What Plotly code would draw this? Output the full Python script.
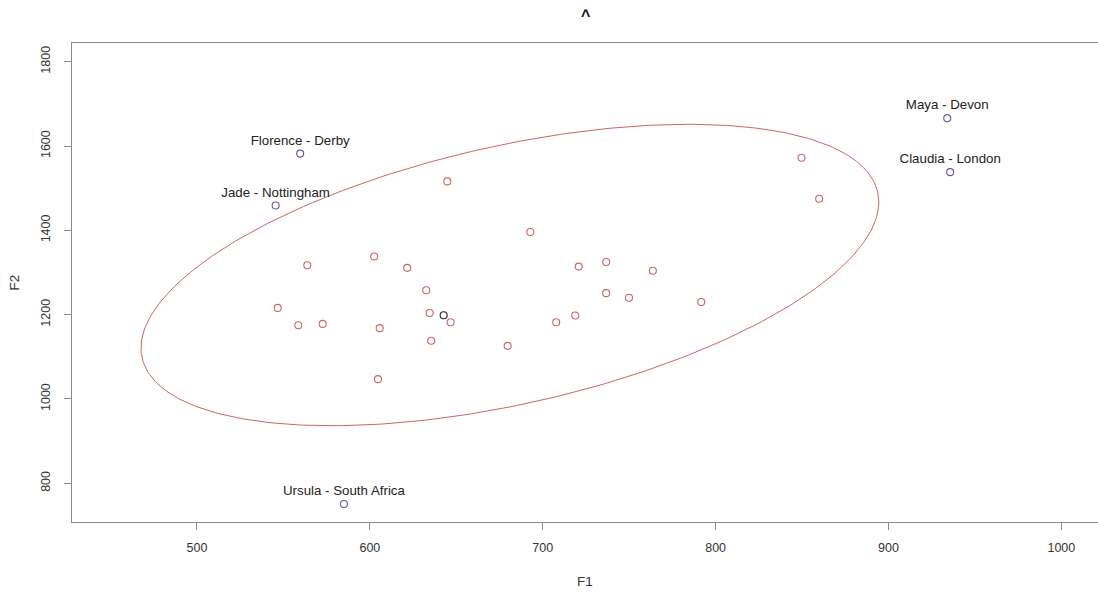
import numpy as np
import plotly.graph_objects as go

# Data
main_f1 = [644.8, 563.8, 602.5, 621.6, 632.6, 546.7, 558.6, 572.7, 605.7, 634.6,
           646.7, 635.5, 604.7, 692.8, 720.8, 736.7, 763.7, 736.7, 749.9, 791.7,
           718.8, 707.8, 679.7, 849.7, 859.9]
main_f2 = [1516, 1317, 1338, 1311, 1258, 1216, 1175, 1178, 1168, 1204,
           1182, 1138, 1047, 1396, 1314, 1325, 1304, 1251, 1240, 1230,
           1198, 1182, 1126, 1572, 1475]

mean_f1 = [642.7]
mean_f2 = [1198.5]

outlier_names = ["Florence - Derby", "Jade - Nottingham", "Maya - Devon",
                 "Claudia - London", "Ursula - South Africa"]
outlier_f1 = [559.7, 545.5, 934.0, 935.7, 585.0]
outlier_f2 = [1582, 1459, 1666, 1538, 751]

# Ellipse parameters (centre, half extents, correlation)
ell_center = (681.0, 1294.0)
ell_half_width = 213.4
ell_half_height = 357.5
ell_corr = 0.484

x_ticks = [500, 600, 700, 800, 900, 1000]
y_ticks = [800, 1000, 1200, 1400, 1600, 1800]

red = "#cc6664"
purple = "#6a52a8"

theta = np.linspace(0, 2 * np.pi, 361)
d = np.arccos(ell_corr)
ell_x = ell_center[0] + ell_half_width * np.cos(theta)
ell_y = ell_center[1] + ell_half_height * np.cos(theta - d)

fig = go.Figure()
fig.add_trace(go.Scatter(x=ell_x, y=ell_y, mode="lines",
                         line=dict(color=red, width=1), hoverinfo="skip"))
fig.add_trace(go.Scatter(x=main_f1, y=main_f2, mode="markers",
                         marker=dict(symbol="circle-open", size=7, color=red,
                                     line=dict(width=1.1, color=red))))
fig.add_trace(go.Scatter(x=mean_f1, y=mean_f2, mode="markers",
                         marker=dict(symbol="circle-open", size=7, color="#222",
                                     line=dict(width=1.1, color="#222"))))
fig.add_trace(go.Scatter(x=outlier_f1, y=outlier_f2, mode="markers+text",
                         text=outlier_names, textposition="top center",
                         textfont=dict(size=13.3, color="#222"),
                         marker=dict(symbol="circle-open", size=7, color=purple,
                                     line=dict(width=1.1, color=purple))))

axis_common = dict(showgrid=False, zeroline=False, showline=True,
                   linecolor="#8a8a8a", linewidth=1, ticks="outside", ticklen=7,
                   tickcolor="#8a8a8a", tickfont=dict(size=12.5, color="#333"))

fig.update_layout(
    width=1098, height=592,
    margin=dict(l=72, r=0, t=43, b=70),
    paper_bgcolor="white", plot_bgcolor="white",
    showlegend=False,
    font=dict(family="Liberation Sans, Arial, sans-serif", color="#222"),
    title=dict(text="<b>^</b>", x=0.5335, xanchor="center", y=1 - 15 / 592,
               yanchor="middle", yref="container", font=dict(size=16, color="#111")),
    xaxis=dict(range=[427.7, 1021.2], tickvals=x_ticks, mirror=True,
               ticklabelstandoff=7,
               title=dict(text="F1", font=dict(size=13.5, color="#333"), standoff=22),
               **axis_common),
    yaxis=dict(range=[708.2, 1844.3], tickvals=y_ticks, tickangle=-90, mirror=False,
               ticklabelstandoff=9,
               title=dict(text="F2", font=dict(size=13.5, color="#333"), standoff=16),
               **axis_common),
)

fig.write_html("out.html")
